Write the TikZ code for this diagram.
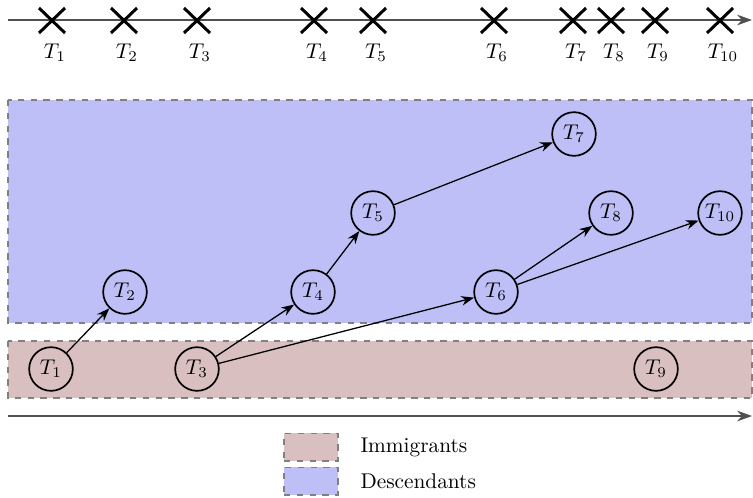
\documentclass[tikz,border=0pt]{standalone}
\usepackage[rgb]{xcolor}
\usepackage{tikz}
\usetikzlibrary{arrows.meta}

\definecolor{immcol}{RGB}{217,191,192}
\definecolor{desccol}{RGB}{191,191,247}
\definecolor{axiscol}{RGB}{80,80,80}

\tikzset{
  event/.style = {circle, draw, thick, minimum size=0.72cm, inner sep=0pt},
  zone/.style = {draw=gray, dashed, thick},
  link/.style = {-{Stealth[length=6pt, width=4.5pt]}, semithick},
  timeline/.style = {-{Stealth[length=7pt, width=5pt]}, thick, draw=axiscol}
}

\begin{document}
\begin{tikzpicture}[x=0.0165cm, y=-0.0165cm]

\useasboundingbox (0,0) rectangle (753,497);

% the two populations as shaded bands
\draw [zone, fill = desccol] (8,100) rectangle (752,323);
\draw [zone, fill = immcol] (8,341) rectangle (752,398);

% time line on top with the arrival times
\draw [timeline] (8,20) -- (752,20);
 \foreach \x [count=\i] in {52,124,197,314,373,494,573,611,655,720}
  {
    \draw [line width=1.4pt] (\x-13,8) -- (\x+13,33) (\x-13,33) -- (\x+13,8);
    \path (\x+3,53) node (t\i) {$T_{\i}$};
  }

% the events, immigrants down low and descendants up
\path
(51,369) node [event] (T1) {$T_1$}
(125,292) node [event] (T2) {$T_2$}
(197,369) node [event] (T3) {$T_3$}
(313,292) node [event] (T4) {$T_4$}
(373,213) node [event] (T5) {$T_5$}
(496,292) node [event] (T6) {$T_6$}
(574,134) node [event] (T7) {$T_7$}
(611,213) node [event] (T8) {$T_8$}
(656,369) node [event] (T9) {$T_9$}
(720,213) node [event] (T10) {$T_{10}$};

% who triggered whom
\draw [link] (T1) -- (T2);
\draw [link] (T3) -- (T4);
\draw [link] (T3) -- (T6);
\draw [link] (T4) -- (T5);
\draw [link] (T5) -- (T7);
\draw [link] (T6) -- (T8);
\draw [link] (T6) -- (T10);

% time line at the bottom
\draw [timeline] (8,416) -- (752,416);

% legend
\path
(311,447) node [zone, fill = immcol, minimum width=0.89cm, minimum height=0.45cm] (immbox) {}
(311,481) node [zone, fill = desccol, minimum width=0.89cm, minimum height=0.45cm] (descbox) {};
\path
(353,447) node [right] (immtext) {Immigrants}
(353,481) node [right] (desctext) {Descendants};

\end{tikzpicture}
\end{document}
